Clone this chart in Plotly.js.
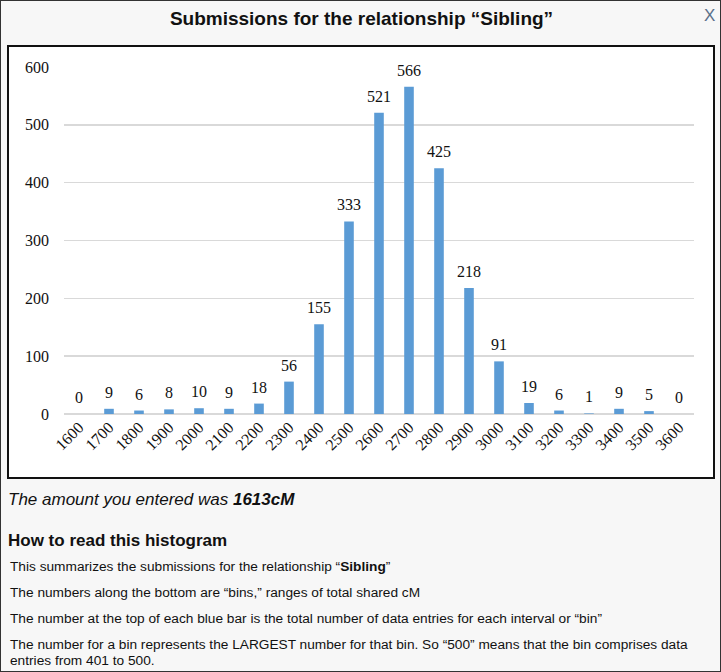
<!DOCTYPE html>
<html>
<head>
<meta charset="utf-8">
<script src="https://cdn.plot.ly/plotly-3.0.1.min.js"></script>
<style>
  html, body { margin:0; padding:0; }
  body { width:721px; height:672px; overflow:hidden; background:#fff; font-family: Arial, "Liberation Sans", sans-serif; }
  #dlg { position:absolute; left:0; top:0; width:719px; height:670px; border:1px solid #333; background:#f7f7f7; }
  #title { position:absolute; left:0; top:7px; width:721px; text-align:center; font-weight:bold; font-size:19px; color:#111; }
  #close { position:absolute; left:703px; top:5px; font-size:17px; color:#5a6f8a; }
  #box { position:absolute; left:6px; top:44px; width:704px; height:430px; border:2px solid #111; background:#fff; }
  #chart { width:704px; height:430px; }
  .t { position:absolute; left:7px; color:#111; white-space:nowrap; }
  #amt { top:489px; font-size:17px; font-style:italic; }
  #how { top:530px; font-size:17px; font-weight:bold; }
  .s { font-size:13.7px; left:9px; }
</style>
</head>
<body>
<div id="dlg">
  <div id="title">Submissions for the relationship “Sibling”</div>
  <div id="close">X</div>
  <div id="box"><div id="chart"></div></div>
  <div class="t" id="amt">The amount you entered was <b>1613cM</b></div>
  <div class="t" id="how">How to read this histogram</div>
  <div class="t s" style="top:558px">This summarizes the submissions for the relationship “<b>Sibling</b>”</div>
  <div class="t s" style="top:584px">The numbers along the bottom are “bins,” ranges of total shared cM</div>
  <div class="t s" style="top:610px">The number at the top of each blue bar is the total number of data entries for each interval or “bin”</div>
  <div class="t s" style="top:636px; line-height:16px">The number for a bin represents the LARGEST number for that bin. So “500” means that the bin comprises data<br>entries from 401 to 500.</div>
</div>
<script>
const bins = ["1600","1700","1800","1900","2000","2100","2200","2300","2400","2500","2600","2700","2800","2900","3000","3100","3200","3300","3400","3500","3600"];
const counts = [0,9,6,8,10,9,18,56,155,333,521,566,425,218,91,19,6,1,9,5,0];
const yTicks = [0,100,200,300,400,500,600];

const serif = '"Liberation Serif", "DejaVu Serif", serif';
const labels = bins.map((b, i) => ({
  x: i, y: counts[i], xref:'x', yref:'y', text: String(counts[i]),
  showarrow:false, yanchor:'bottom', yshift:6,
  font:{family:serif, size:16, color:'#111'}
}));
Plotly.newPlot('chart', [{
  type:'bar',
  x: bins,
  y: counts,
  cliponaxis:false,
  marker:{color:'#5b9bd5'},
  hoverinfo:'none'
}], {
  width:704, height:430,
  margin:{l:55, r:19, t:20, b:63},
  paper_bgcolor:'#fff', plot_bgcolor:'#fff',
  bargap:0.68,
  showlegend:false,
  annotations: labels,
  font:{family:serif, color:'#111'},
  xaxis:{type:'category', range:[-0.5, bins.length - 0.5], tickangle:-45, tickfont:{family:serif, size:16, color:'#111'}, showgrid:false, showline:false, ticks:'', ticklen:0},
  yaxis:{range:[0,600], tickvals:yTicks, ticktext:yTicks.map(String), tickfont:{family:serif, size:16, color:'#111'},
         showgrid:true, gridcolor:'#d9d9d9', gridwidth:1.5, zeroline:true, zerolinecolor:'#d9d9d9', zerolinewidth:1.5,
         ticks:'', ticklabelstandoff:14, showline:false}
}, {displayModeBar:false, staticPlot:true});
</script>
</body>
</html>
